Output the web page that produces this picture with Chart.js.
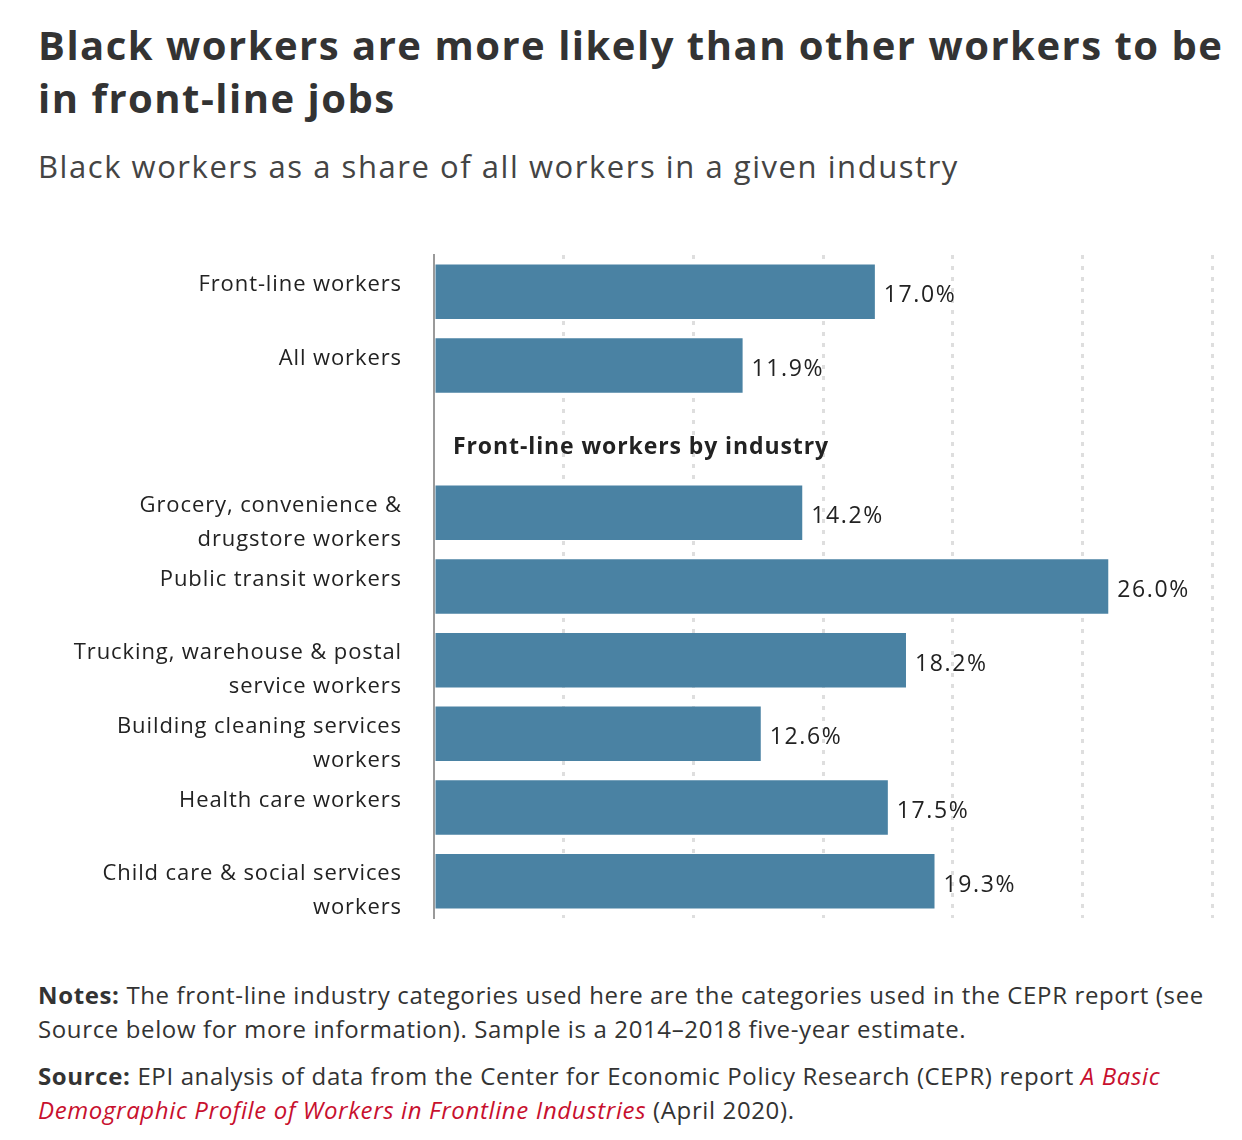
<!DOCTYPE html>
<html>
<head>
<meta charset="utf-8">
<script src="https://cdn.jsdelivr.net/npm/chart.js@4/dist/chart.umd.min.js"></script>
<style>
  body { margin: 0; background: #fff; font-family: "Open Sans", sans-serif; color: #333; width: 1242px; height: 1140px; position: relative; overflow: hidden; }
  h1 { position: absolute; left: 38px; top: 18px; margin: 0; font-size: 40px; line-height: 53px; font-weight: 700; letter-spacing: 1.5px; color: #333; }
  .sub { position: absolute; left: 38px; top: 146px; font-size: 31px; line-height: 40px; letter-spacing: 1.55px; color: #444; }
  #wrap { position: absolute; left: 0; top: 240px; width: 1242px; height: 700px; }
  .notes { position: absolute; left: 38px; top: 978px; font-size: 24px; line-height: 34px; letter-spacing: 0.63px; color: #333; }
  .notes p { margin: 0 0 13px; }
  .notes i { color: #c8102e; }
</style>
</head>
<body>
<h1>Black workers are more likely than other workers to be<br>in front-line jobs</h1>
<div class="sub">Black workers as a share of all workers in a given industry</div>
<div id="wrap"><canvas id="chart"></canvas></div>
<div class="notes">
  <p><b>Notes:</b> The front-line industry categories used here are the categories used in the CEPR report (see<br>Source below for more information). Sample is a 2014–2018 five-year estimate.</p>
  <p><b>Source:</b> EPI analysis of data from the Center for Economic Policy Research (CEPR) report <i>A Basic<br>Demographic Profile of Workers in Frontline Industries</i> (April 2020).</p>
</div>
<script>
// ---------------------------------------------------------------------------
// Data
// ---------------------------------------------------------------------------
const categories = [
  ["Front-line workers"],
  ["All workers"],
  [""],
  ["Grocery, convenience &", "drugstore workers"],
  ["Public transit workers"],
  ["Trucking, warehouse & postal", "service workers"],
  ["Building cleaning services", "workers"],
  ["Health care workers"],
  ["Child care & social services", "workers"],
];
const values = [17.0, 11.9, null, 14.2, 26.0, 18.2, 12.6, 17.5, 19.3];
const sectionLabel = "Front-line workers by industry";
const sectionIndex = 2;
const xMax = 30;
const xStep = 5;

const BAR_COLOR = "#4a82a3";
const FONT = "'Open Sans', sans-serif";

// ---------------------------------------------------------------------------
// Labels: y categories, bar values, section header
// ---------------------------------------------------------------------------
const labelPlugin = {
  id: "labels",
  afterDatasetsDraw(chart) {
    const { ctx, chartArea } = chart;
    const y = chart.scales.y;
    const meta = chart.getDatasetMeta(0);
    ctx.save();
    ctx.fillStyle = "#222";
    ctx.textBaseline = "middle";

    ctx.font = "22px " + FONT;
    ctx.letterSpacing = "0.9px";
    ctx.textAlign = "right";
    categories.forEach((lines, i) => {
      const cy = y.getPixelForValue(i);
      lines.forEach((t, j) => ctx.fillText(t, chartArea.left - 32, cy - 7 + j * 34));
    });

    ctx.font = "23px " + FONT;
    ctx.letterSpacing = "1.6px";
    ctx.textAlign = "left";
    meta.data.forEach((bar, i) => {
      if (values[i] == null) return;
      ctx.fillText(values[i].toFixed(1) + "%", bar.x + 9, bar.y + 4);
    });

    ctx.font = "bold 23px " + FONT;
    ctx.letterSpacing = "0.9px";
    ctx.fillText(sectionLabel, chartArea.left + 19, y.getPixelForValue(sectionIndex) + 8);
    ctx.restore();
  }
};

new Chart(document.getElementById("chart"), {
  type: "bar",
  data: {
    labels: categories,
    datasets: [{
      data: values,
      backgroundColor: BAR_COLOR,
      borderWidth: 0,
      categoryPercentage: 1,
      barPercentage: 0.74,
    }]
  },
  options: {
    indexAxis: "y",
    responsive: true,
    maintainAspectRatio: false,
    animation: false,
    layout: { padding: { top: 15, bottom: 22, right: 30, left: 0 } },
    plugins: { legend: { display: false }, tooltip: { enabled: false } },
    scales: {
      x: {
        min: 0,
        max: xMax,
        ticks: { display: false, stepSize: xStep },
        grid: {
          drawTicks: false,
          lineWidth: 3,
          color: c => (c.tick && c.tick.value === 0 ? "rgba(0,0,0,0)" : "#dedede"),
        },
        border: { display: false, dash: [4, 7] },
      },
      y: {
        ticks: { display: false },
        grid: { display: false, drawTicks: false },
        border: { display: true, color: "#9a9a9a", width: 2 },
        afterFit: s => { s.width = 434; },
      }
    }
  },
  plugins: [labelPlugin]
});
</script>
</body>
</html>
